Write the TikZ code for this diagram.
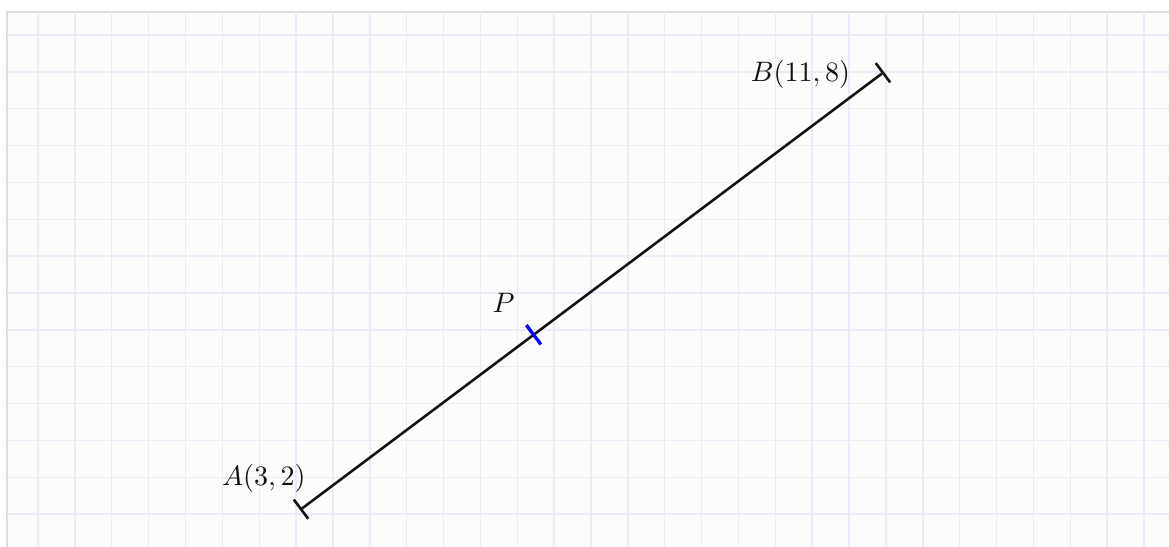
\documentclass[tikz,border=0pt]{standalone}
\usetikzlibrary{arrows.meta,positioning,calc}
\definecolor{ink}{HTML}{111111}
\definecolor{gridblue}{HTML}{EAEAFA}
\definecolor{paperbg}{HTML}{FCFCFC}
\definecolor{framegray}{HTML}{DCDCDC}
\definecolor{tickblue}{HTML}{0000FF}
\tikzset{
  lbl/.style={font=\fontsize{10.8}{13}\selectfont, text=ink},
  seg/.style={{Bar[width=3.3mm]}-{Bar[width=3.3mm]}, line width=1pt, draw=ink},
  ptick/.style={line width=1.3pt, draw=tickblue},
  gridline/.style={draw=gridblue, line width=0.55pt},
  panel/.style={draw=framegray, line width=0.8pt, fill=paperbg},
}

\begin{document}
\begin{tikzpicture}
\useasboundingbox (-1.110,1.493) rectangle (14.904,8.986);
\clip (-1.110,1.493) rectangle (14.904,8.986);

% --- paper ---
\draw[panel] (-1.014,1.2) rectangle (15.2,8.822);
\draw[gridline, shift={(-0.589,8.507)}] (-0.42,-7.1) grid[step=0.505] (15.49,0.31);

% --- segment AB ---
\coordinate (A) at (3,2);
\coordinate (B) at (11,8);
\coordinate (P) at ($(A)!0.4!(B)$);
\draw[seg] (A) -- (B);
\draw[ptick] ($(P)!0.165cm!90:(B)$) -- ($(P)!0.165cm!-90:(B)$);

% --- labels ---
\node[lbl, anchor=south east] (Alab) at ([shift={(0.2,0.11)}]A) {$A(3,2)$};
\node[lbl, left=0.34cm of B, yshift=-0.04cm] (Blab) {$B(11,8)$};
\node[lbl] (Plab) at ([shift={(-0.41,0.43)}]P) {$P$};

\end{tikzpicture}
\end{document}
